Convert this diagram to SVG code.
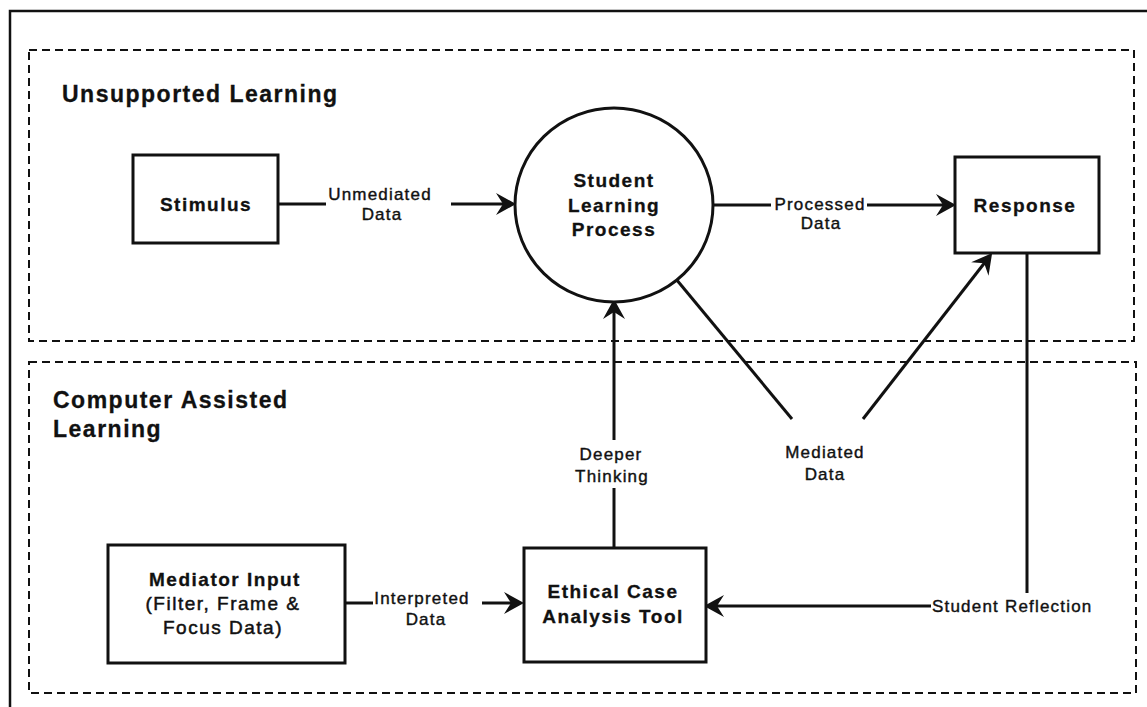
<svg xmlns="http://www.w3.org/2000/svg" width="1147" height="707" viewBox="0 0 1147 707">
  <style>
    .frame { fill: none; stroke: #111; stroke-width: 2.5; }
    .zone { fill: none; stroke: #111; stroke-width: 2; stroke-dasharray: 8 5; }
    .box { fill: #fff; stroke: #111; stroke-width: 3; }
    .wire { fill: none; stroke: #111; stroke-width: 3; }
    .arrow { marker-end: url(#head); }
    text { font-family: "Liberation Sans", Arial, Helvetica, sans-serif; fill: #111; stroke: #111; }
    .title { font-size: 23px; font-weight: bold; letter-spacing: 1.5px; stroke-width: 0.3; }
    .node { font-size: 19px; font-weight: bold; letter-spacing: 1.5px; text-anchor: middle; stroke-width: 0.3; }
    .sub { font-size: 19px; letter-spacing: 1.5px; text-anchor: middle; stroke-width: 0.5; }
    .label { font-size: 17px; letter-spacing: 1.2px; text-anchor: middle; stroke-width: 0.4; }
    .label-start { font-size: 17px; letter-spacing: 1.2px; stroke-width: 0.4; }
  </style>
  <defs>
    <marker id="head" markerUnits="userSpaceOnUse" markerWidth="24" markerHeight="24" viewBox="-22 -12 24 24" refX="-10" refY="0" orient="auto">
      <path d="M0,0 L-20,-11 L-13,0 L-20,11 Z" fill="#111"/>
    </marker>
  </defs>

  <rect width="1147" height="707" fill="#fff"/>

  <!-- outer frame (runs off the right and bottom edges) -->
  <rect class="frame" x="10" y="11" width="1150" height="710"/>

  <!-- zones -->
  <g id="zone-unsupported">
    <rect class="zone" x="29" y="50" width="1105" height="291"/>
    <text class="title" x="62" y="102">Unsupported Learning</text>
  </g>
  <g id="zone-computer">
    <rect class="zone" x="29" y="362" width="1107" height="331"/>
    <text class="title" x="53" y="408">Computer Assisted</text>
    <text class="title" x="53" y="437">Learning</text>
  </g>

  <!-- connectors -->
  <g id="connectors">
    <line class="wire" x1="278" y1="204" x2="326" y2="204"/>
    <line class="wire arrow" x1="451" y1="204" x2="506" y2="204"/>
    <line class="wire" x1="713" y1="205" x2="771" y2="205"/>
    <line class="wire arrow" x1="867" y1="205" x2="946" y2="205"/>
    <line class="wire" x1="614" y1="548" x2="614" y2="488"/>
    <line class="wire arrow" x1="614" y1="440" x2="614" y2="309"/>
    <line class="wire" x1="676" y1="279" x2="792" y2="419"/>
    <line class="wire arrow" x1="863" y1="419" x2="986" y2="261"/>
    <line class="wire" x1="1027" y1="253" x2="1027" y2="593"/>
    <line class="wire arrow" x1="931" y1="606" x2="714" y2="606"/>
    <line class="wire" x1="345" y1="603" x2="373" y2="603"/>
    <line class="wire arrow" x1="482" y1="603" x2="514" y2="603"/>

    <text class="label" x="380" y="200">Unmediated</text>
    <text class="label" x="382" y="220">Data</text>
    <text class="label" x="820" y="210">Processed</text>
    <text class="label" x="821" y="229">Data</text>
    <text class="label" x="611" y="460">Deeper</text>
    <text class="label" x="612" y="482">Thinking</text>
    <text class="label" x="825" y="458">Mediated</text>
    <text class="label" x="825" y="480">Data</text>
    <text class="label" x="422" y="604">Interpreted</text>
    <text class="label" x="426" y="625">Data</text>
    <text class="label-start" x="932" y="612">Student Reflection</text>
  </g>

  <!-- nodes -->
  <g id="stimulus">
    <rect class="box" x="133" y="155" width="145" height="88"/>
    <text class="node" x="206" y="211">Stimulus</text>
  </g>
  <g id="student-learning-process">
    <ellipse class="box" cx="614" cy="205" rx="99" ry="97"/>
    <text class="node" x="614" y="187">Student</text>
    <text class="node" x="614" y="212">Learning</text>
    <text class="node" x="614" y="236">Process</text>
  </g>
  <g id="response">
    <rect class="box" x="955" y="157" width="144" height="96"/>
    <text class="node" x="1025" y="212">Response</text>
  </g>
  <g id="mediator-input">
    <rect class="box" x="108" y="545" width="237" height="118"/>
    <text class="node" x="225" y="586">Mediator Input</text>
    <text class="sub" x="223" y="610">(Filter, Frame &amp;</text>
    <text class="sub" x="223" y="634">Focus Data)</text>
  </g>
  <g id="ethical-case-analysis-tool">
    <rect class="box" x="524" y="548" width="182" height="114"/>
    <text class="node" x="613" y="598">Ethical Case</text>
    <text class="node" x="613" y="623">Analysis Tool</text>
  </g>
</svg>
